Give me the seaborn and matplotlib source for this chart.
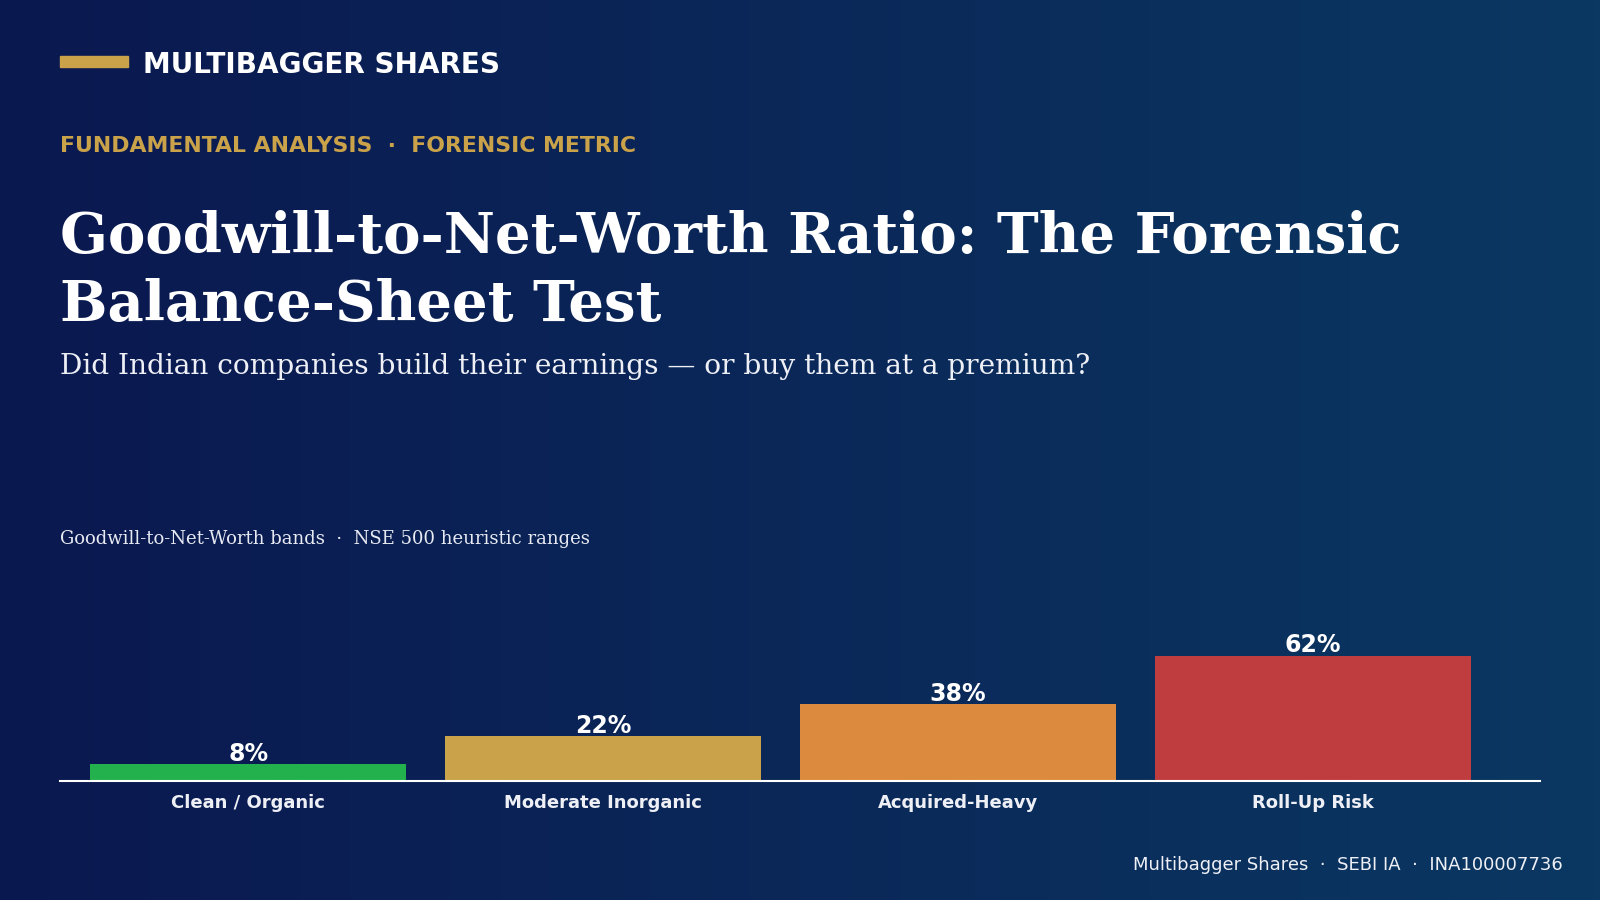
import numpy as np
import pandas as pd
import matplotlib
matplotlib.use("Agg")
import matplotlib.pyplot as plt
from matplotlib.colors import LinearSegmentedColormap
import seaborn as sns

# ---- data ----
categories = ["Clean / Organic", "Moderate Inorganic", "Acquired-Heavy", "Roll-Up Risk"]
values = [8, 22, 38, 62]
value_labels = ["8%", "22%", "38%", "62%"]
bar_colors = ["#22b14c", "#c9a24a", "#dc8b3e", "#bf3c3f"]

brand = "MULTIBAGGER SHARES"
kicker = "FUNDAMENTAL ANALYSIS  \u00b7  FORENSIC METRIC"
title = "Goodwill-to-Net-Worth Ratio: The Forensic\nBalance-Sheet Test"
subtitle = "Did Indian companies build their earnings \u2014 or buy them at a premium?"
chart_note = "Goodwill-to-Net-Worth bands  \u00b7  NSE 500 heuristic ranges"
footer = "Multibagger Shares  \u00b7  SEBI IA  \u00b7  INA100007736"

GOLD = "#c9a24a"
W, H = 1600, 900

sns.set_theme(style="white")
plt.rcParams['font.family'] = ['DejaVu Sans']

fig = plt.figure(figsize=(16, 9), dpi=100)

# background gradient
bg = fig.add_axes([0, 0, 1, 1], zorder=-10)
cmap = LinearSegmentedColormap.from_list("bg", ["#0a1850", "#0b3862"])
grad = np.linspace(0, 1, 256).reshape(1, -1)
bg.imshow(grad, aspect="auto", cmap=cmap, extent=[0, 1, 0, 1])
bg.set_axis_off()

def fx(px):
    return px / W

def fy(py):
    return 1 - py / H

# header
fig.patches.append(matplotlib.patches.Rectangle((fx(60), fy(67)), fx(68), 11 / H,
                                                transform=fig.transFigure, color=GOLD))
fig.text(fx(143), fy(65), brand, color="white", fontsize=20.1, fontweight="bold", va="center")
fig.text(fx(60), fy(146), kicker, color=GOLD, fontsize=15.85, fontweight="bold", va="center")
fig.text(fx(60), fy(321), title, color="white", fontsize=40.4, fontweight="bold",
         family="DejaVu Serif", va="baseline", linespacing=1.3)
fig.text(fx(60), fy(366), subtitle, color="#eef0f6", fontsize=20.2,
         family="DejaVu Serif", va="center")
fig.text(fx(60), fy(539), chart_note, color="#e8eaf2", fontsize=13,
         family="DejaVu Serif", va="center")
fig.text(fx(1563), fy(865), footer, color="#eef0f6", fontsize=13, ha="right", va="center")

# chart axes
ax_top, ax_bot = 579, 780.6
ax = fig.add_axes([fx(60), fy(ax_bot), fx(1540) - fx(60), (ax_bot - ax_top) / H])
ax.patch.set_alpha(0)

df = pd.DataFrame({"category": categories, "value": values})
sns.barplot(data=df, x="category", y="value", hue="category", palette=bar_colors,
            saturation=1, width=0.89, legend=False, ax=ax, zorder=2,
            linewidth=0, edgecolor="none")

ax.set_xlim(-0.53, 3.64)
ax.set_ylim(0, 100)
for i, (v, lab) in enumerate(zip(values, value_labels)):
    ax.text(i, v - 0.8, lab, color="white", fontsize=17, fontweight="bold",
            ha="center", va="bottom")

for s in ["top", "right", "left"]:
    ax.spines[s].set_visible(False)
ax.spines["bottom"].set_color("white")
ax.spines["bottom"].set_linewidth(1.5)
ax.spines["bottom"].set_zorder(3)
ax.set_yticks([])
ax.set_xlabel("")
ax.set_ylabel("")
ax.tick_params(axis="x", length=0, pad=10, colors="#eef0f6")
for t in ax.get_xticklabels():
    t.set_fontweight("bold")
    t.set_fontsize(13)
    t.set_color("#eef0f6")

fig.savefig("out.png", dpi=100)
